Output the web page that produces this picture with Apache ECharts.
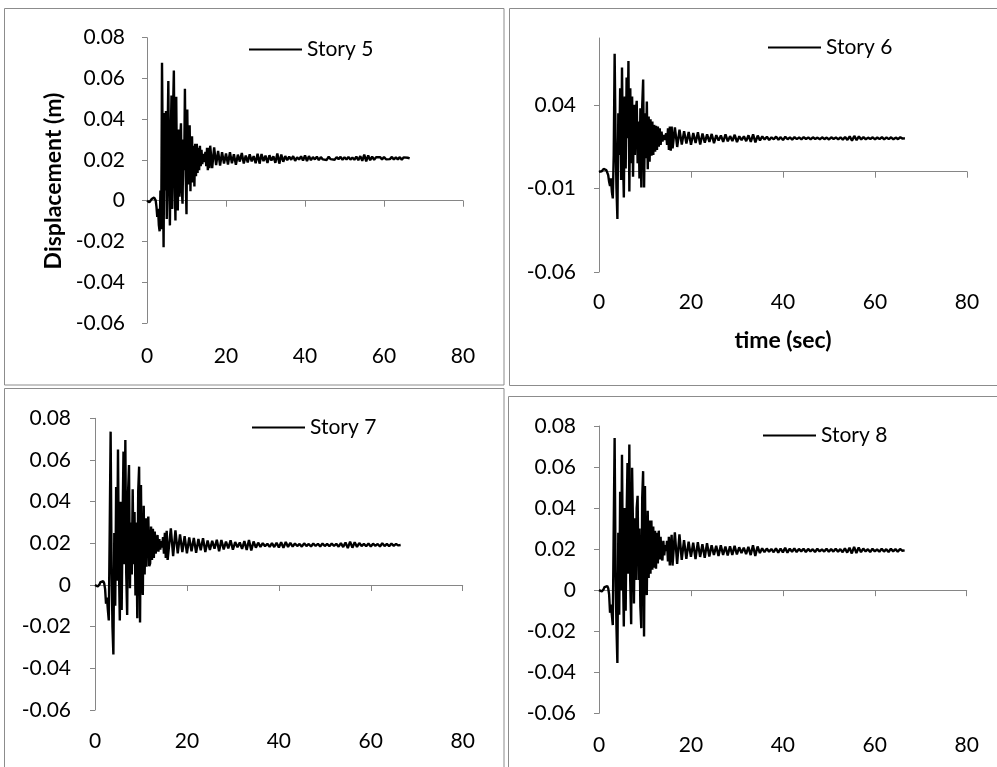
<!DOCTYPE html>
<html>
<head>
<meta charset="utf-8">
<title>Story displacement</title>
<script src="https://cdn.jsdelivr.net/npm/echarts@6.0.0/dist/echarts.min.js"></script>
<style>
    html, body { margin: 0; padding: 0; background: #fff; }
    #main { width: 997px; height: 767px; }
</style>
</head>
<body>
<div id="main"></div>
<script>
var storyNames = ['Story 5', 'Story 6', 'Story 7', 'Story 8'];
var xTicks = [0, 20, 40, 60, 80];
var yTicksFine = [-0.06, -0.04, -0.02, 0, 0.02, 0.04, 0.06, 0.08];
var yTicksWide = [-0.06, -0.01, 0.04];

// samples: 0 - 15.8 s every 0.2 s, then 16 - 66.5 s every 0.5 s
var earlyStep = 0.2;
var lateStart = 16;
var lateStep = 0.5;

var story5Early = [
    0, 0, -0.0003, -0.0007, -0.0006, 0, 0.0008, 0.0014, 0.0017, 0.0016,
    0.001, 0.0002, -0.003, -0.008, -0.004, -0.012, -0.015, 0.005, -0.014, 0.0677,
    0.02, -0.0228, 0.043, 0.005, 0.044, -0.009, 0.03, 0.0587, 0.01, -0.0121,
    0.03, 0.0516, -0.004, 0.045, 0.0639, 0.012, -0.0097, 0.051, 0.008, -0.0048,
    0.035, 0.002, 0.03, 0.038, 0.005, -0.0015, 0.03, 0.015, 0.055, 0.012,
    -0.0066, 0.0448, 0.008, 0.032, 0.037, 0.0046, 0.028, 0.0316, 0.009, 0.027,
    0.007, 0.028, 0.012, 0.028, 0.0136, 0.026, 0.015, 0.027, 0.017, 0.025,
    0.018, 0.023, 0.019, 0.021, 0.024, 0.017, 0.026, 0.015, 0.026, 0.016
];
var story5Late = [
    0.027, 0.016, 0.0262, 0.0175, 0.0245, 0.0172, 0.0238, 0.0182, 0.0232, 0.0178,
    0.0238, 0.0184, 0.0228, 0.0176, 0.0226, 0.0192, 0.0234, 0.0183, 0.0222, 0.0188,
    0.0228, 0.0193, 0.0219, 0.0184, 0.0231, 0.0182, 0.0229, 0.0194, 0.0221, 0.0186,
    0.0223, 0.0197, 0.0218, 0.0186, 0.0232, 0.0182, 0.0227, 0.0191, 0.0219, 0.0199,
    0.0216, 0.0201, 0.0219, 0.0196, 0.0213, 0.0202, 0.0218, 0.0197, 0.0222, 0.0195,
    0.0219, 0.0199, 0.0214, 0.0203, 0.0216, 0.0199, 0.0214, 0.0203, 0.0212, 0.02,
    0.0216, 0.0204, 0.0213, 0.0201, 0.0214, 0.0204, 0.0215, 0.0201, 0.0213, 0.0202,
    0.0215, 0.0202, 0.0212, 0.0201, 0.0216, 0.0199, 0.0219, 0.0196, 0.0226, 0.0193,
    0.0222, 0.0199, 0.0216, 0.0201, 0.0213, 0.0204, 0.0214, 0.0202, 0.0215, 0.0203,
    0.0212, 0.0204, 0.0215, 0.0202, 0.0213, 0.0203, 0.0214, 0.0201, 0.0213, 0.0204,
    0.0211, 0.0208
];

var story6Early = [
    0, 0, 0, 0.0003, 0.001, 0.0017, 0.002, 0.0018, 0.001, 0,
    -0.002, -0.006, -0.0085, -0.004, -0.012, -0.016, 0.01, 0.0705, 0.02, -0.01,
    -0.0283, 0.035, 0.01, 0.05, -0.005, 0.0623, 0.01, -0.0154, 0.045, 0.002,
    0.0563, 0.02, 0.0663, -0.0118, 0.05, 0.005, 0.045, -0.003, 0.04, 0.01,
    0.036, 0.0424, 0.005, 0.03, -0.004, 0.038, -0.0094, 0.04, 0.0551, -0.0094,
    0.035, 0.008, 0.042, 0.0015, 0.033, 0.006, 0.0314, 0.0095, 0.03, 0.01,
    0.028, 0.012, 0.0274, 0.013, 0.027, 0.015, 0.026, 0.016, 0.024, 0.018,
    0.022, 0.019, 0.02, 0.023, 0.016, 0.026, 0.013, 0.027, 0.0125, 0.027
];
var story6Late = [
    0.014, 0.0265, 0.0148, 0.0252, 0.0162, 0.0243, 0.0168, 0.0238, 0.0161, 0.0232,
    0.0172, 0.0236, 0.0163, 0.0228, 0.0174, 0.0223, 0.0178, 0.0226, 0.0171, 0.0219,
    0.0186, 0.0217, 0.0178, 0.0224, 0.0182, 0.0213, 0.0184, 0.0221, 0.0177, 0.0212,
    0.0189, 0.0212, 0.0183, 0.0218, 0.0179, 0.0223, 0.0176, 0.0216, 0.0187, 0.0211,
    0.0193, 0.0209, 0.019, 0.0206, 0.0194, 0.021, 0.0191, 0.0207, 0.0189, 0.0209,
    0.0194, 0.0206, 0.0192, 0.0207, 0.0195, 0.0205, 0.0193, 0.0207, 0.0196, 0.0205,
    0.0193, 0.0206, 0.0196, 0.0204, 0.0194, 0.0206, 0.0195, 0.0204, 0.0193, 0.0206,
    0.0196, 0.0205, 0.0193, 0.0206, 0.0192, 0.0208, 0.019, 0.0211, 0.0186, 0.0214,
    0.0189, 0.0211, 0.0193, 0.0207, 0.0194, 0.0204, 0.0196, 0.0206, 0.0194, 0.0205,
    0.0195, 0.0207, 0.0193, 0.0205, 0.0195, 0.0206, 0.0194, 0.0204, 0.0195, 0.0206,
    0.0198, 0.02
];

var story7Early = [
    0, 0, -0.0004, -0.0007, -0.0005, 0.0004, 0.0014, 0.002, 0.0022, 0.0018,
    0.0008, -0.002, -0.009, -0.006, -0.012, -0.017, 0.026, 0.0736, 0.01, -0.02,
    -0.0333, 0.025, -0.01, 0.047, 0.002, 0.065, 0.01, -0.017, 0.04, -0.012,
    0.03, 0.064, 0.01, 0.0696, 0.005, -0.0144, 0.045, 0.0576, -0.0016, 0.03,
    0.005, 0.046, 0.01, 0.035, -0.005, 0.03, -0.016, 0.045, 0.0568, -0.018,
    0.048, 0.002, -0.0048, 0.038, 0.005, 0.032, 0.0088, 0.03, 0.0328, 0.009,
    0.0104, 0.028, 0.012, 0.027, 0.013, 0.0256, 0.015, 0.0144, 0.024, 0.016,
    0.022, 0.017, 0.021, 0.018, 0.023, 0.015, 0.025, 0.013, 0.026, 0.012
];
var story7Late = [
    0.012, 0.0272, 0.0138, 0.0262, 0.0152, 0.0243, 0.0158, 0.0234, 0.0152, 0.0228,
    0.0162, 0.0226, 0.0154, 0.0221, 0.0167, 0.0225, 0.0158, 0.0213, 0.0168, 0.0212,
    0.0174, 0.0217, 0.0162, 0.0216, 0.0171, 0.0208, 0.0176, 0.0214, 0.0169, 0.0206,
    0.0181, 0.0204, 0.0173, 0.0211, 0.0168, 0.0216, 0.0166, 0.0209, 0.0179, 0.0203,
    0.0183, 0.0201, 0.0186, 0.0198, 0.0183, 0.0201, 0.0182, 0.0203, 0.018, 0.0205,
    0.0178, 0.0206, 0.0183, 0.0202, 0.0184, 0.0199, 0.0187, 0.0197, 0.0184, 0.02,
    0.0187, 0.0197, 0.0185, 0.0199, 0.0187, 0.0198, 0.0185, 0.0199, 0.0187, 0.0197,
    0.0186, 0.0199, 0.0187, 0.0198, 0.0184, 0.0201, 0.0182, 0.0204, 0.0177, 0.0208,
    0.0179, 0.0205, 0.0183, 0.0201, 0.0187, 0.0197, 0.0186, 0.0199, 0.0185, 0.0198,
    0.0188, 0.0197, 0.0185, 0.02, 0.0187, 0.0197, 0.0186, 0.0199, 0.0188, 0.0197,
    0.019, 0.0192
];

var story8Early = [
    0, 0, -0.0004, -0.0006, -0.0003, 0.0005, 0.0015, 0.0021, 0.0023, 0.002,
    0.001, -0.002, -0.011, -0.007, -0.012, -0.017, 0.03, 0.0742, 0.01, -0.018,
    -0.0355, 0.028, -0.012, 0.048, 0, 0.066, 0.012, -0.0177, 0.04, -0.01,
    0.035, 0.062, 0.008, 0.071, 0.004, -0.0166, 0.0597, 0.03, -0.0065, 0.035,
    0.005, 0.04, 0.046, 0.005, 0.03, -0.008, -0.0185, 0.045, 0.058, -0.0226,
    0.0508, 0.004, -0.0024, 0.0387, 0.006, 0.034, 0.008, 0.034, 0.01, 0.031,
    0.011, 0.029, 0.0105, 0.028, 0.013, 0.029, 0.015, 0.026, 0.016, 0.0145,
    0.024, 0.017, 0.022, 0.019, 0.024, 0.014, 0.026, 0.012, 0.0113, 0.027
];
var story8Late = [
    0.012, 0.0282, 0.0128, 0.0272, 0.0148, 0.0244, 0.0153, 0.0236, 0.0162, 0.0231,
    0.0151, 0.0234, 0.0162, 0.0224, 0.0158, 0.0229, 0.0164, 0.0219, 0.0171, 0.0216,
    0.0166, 0.0219, 0.0172, 0.0213, 0.0169, 0.0214, 0.0172, 0.0216, 0.0174, 0.0209,
    0.0181, 0.0207, 0.0176, 0.0211, 0.0171, 0.0219, 0.0167, 0.0213, 0.0181, 0.0204,
    0.0185, 0.0203, 0.0187, 0.0201, 0.0185, 0.0204, 0.0183, 0.0203, 0.0184, 0.0206,
    0.0183, 0.0202, 0.0187, 0.0203, 0.0186, 0.0201, 0.0189, 0.0202, 0.0186, 0.0201,
    0.0189, 0.02, 0.0186, 0.0202, 0.0189, 0.0199, 0.0188, 0.0202, 0.0187, 0.02,
    0.0188, 0.0202, 0.0187, 0.02, 0.0185, 0.0204, 0.0183, 0.0207, 0.0179, 0.0211,
    0.0181, 0.0208, 0.0185, 0.0203, 0.0189, 0.02, 0.0186, 0.0202, 0.0189, 0.0199,
    0.0187, 0.0202, 0.0188, 0.02, 0.0186, 0.0202, 0.0189, 0.02, 0.0187, 0.0201,
    0.0192, 0.0194
];

var FONT = 'Lato, "Open Sans", sans-serif';
var AXIS_GRAY = '#868686';

// one entry per chart box, positions in px
var panels = [
    {box: [4.5, 8.5, 499.5, 376.5], grid: [147, 37.7, 316, 285.3], legend: [249, 39], labelGap: 22, xGap: 23,
        yTicks: yTicksFine, early: story5Early, late: story5Late, xName: ''},
    {box: [509.5, 8.5, 500, 377], grid: [599, 38, 368, 234], legend: [768, 37], labelGap: 23, xGap: 20,
        yTicks: yTicksWide, early: story6Early, late: story6Late, xName: 'time (sec)'},
    {box: [4.5, 388.5, 499.5, 400], grid: [95, 418.3, 367.7, 291.7], legend: [252, 417], labelGap: 24, xGap: 21,
        yTicks: yTicksFine, early: story7Early, late: story7Late, xName: ''},
    {box: [508.5, 396.5, 500, 400], grid: [599, 426, 367.7, 287.3], legend: [763, 425], labelGap: 23, xGap: 21,
        yTicks: yTicksFine, early: story8Early, late: story8Late, xName: ''}
];

function toPoints(early, late) {
    var pts = [];
    for (var i = 0; i < early.length; i++) {
        pts.push([Math.round(i * earlyStep * 10) / 10, early[i]]);
    }
    for (var j = 0; j < late.length; j++) {
        pts.push([lateStart + j * lateStep, late[j]]);
    }
    return pts;
}

var option = {
    backgroundColor: '#fff',
    animation: false,
    textStyle: {fontFamily: FONT},
    grid: [],
    xAxis: [],
    yAxis: [],
    legend: [],
    series: [],
    graphic: [{
        // y title of the first chart
        type: 'text',
        x: 54, y: 181, rotation: Math.PI / 2,
        style: {
            text: 'Displacement (m)', fill: '#000',
            fontSize: 23, fontWeight: 'bold', fontFamily: FONT,
            align: 'center', verticalAlign: 'middle'
        },
        silent: true
    }]
};

panels.forEach(function (p, i) {
    option.graphic.push({
        type: 'rect',
        shape: {x: p.box[0], y: p.box[1], width: p.box[2], height: p.box[3]},
        style: {fill: 'none', stroke: '#8c8c8c', lineWidth: 1},
        silent: true
    });

    option.grid.push({left: p.grid[0], top: p.grid[1], width: p.grid[2], height: p.grid[3], containLabel: false});

    // axis line crossing at y = 0, no labels
    option.xAxis.push({
        gridIndex: i, type: 'value', position: 'bottom', min: 0, max: 80, interval: 20,
        axisLine: {show: true, onZero: true, lineStyle: {color: AXIS_GRAY, width: 1}},
        axisTick: {show: true, length: 6, customValues: xTicks, lineStyle: {color: AXIS_GRAY}},
        axisLabel: {show: false},
        splitLine: {show: false}
    });
    // labels sit low, at the bottom of the plot area
    option.xAxis.push({
        gridIndex: i, type: 'value', position: 'bottom', min: 0, max: 80, interval: 20,
        axisLine: {show: false, onZero: false},
        axisTick: {show: false},
        axisLabel: {show: true, margin: p.xGap, customValues: xTicks, fontSize: 21, color: '#000', fontFamily: FONT},
        splitLine: {show: false},
        name: p.xName, nameLocation: 'middle', nameGap: 57,
        nameTextStyle: {fontSize: 23, fontWeight: 'bold', color: '#000', fontFamily: FONT}
    });

    option.yAxis.push({
        gridIndex: i, type: 'value', min: -0.06, max: 0.08,
        axisLine: {show: true, onZero: false, lineStyle: {color: AXIS_GRAY, width: 1}},
        axisTick: {show: true, length: 5, customValues: p.yTicks, lineStyle: {color: AXIS_GRAY}},
        axisLabel: {show: true, margin: p.labelGap, customValues: p.yTicks, fontSize: 21, color: '#000', fontFamily: FONT},
        splitLine: {show: false}
    });

    option.legend.push({
        data: [storyNames[i]],
        left: p.legend[0], top: p.legend[1],
        padding: 0,
        icon: 'rect', itemWidth: 53, itemHeight: 2,
        selectedMode: false,
        textStyle: {fontSize: 21, color: '#000', fontFamily: FONT}
    });

    option.series.push({
        name: storyNames[i],
        type: 'line',
        xAxisIndex: i * 2,
        yAxisIndex: i,
        data: toPoints(p.early, p.late),
        showSymbol: false,
        symbol: 'none',
        silent: true,
        lineStyle: {color: '#000', width: 2.4},
        itemStyle: {color: '#000'}
    });
});

var myChart = echarts.init(document.getElementById('main'), null, {renderer: 'canvas'});
myChart.setOption(option);
</script>
</body>
</html>
